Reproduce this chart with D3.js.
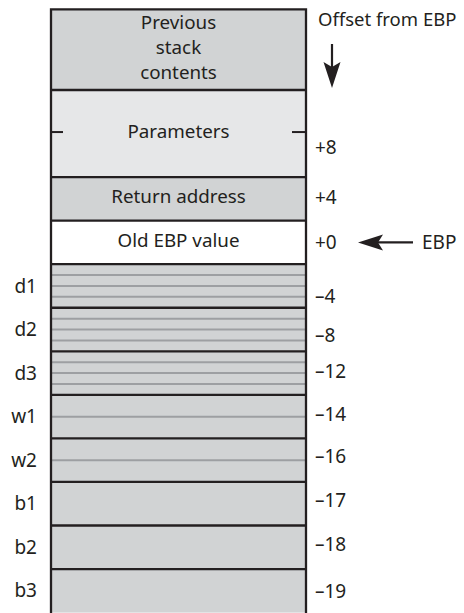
<!DOCTYPE html>
<html>
<head>
<meta charset="utf-8">
<script src="https://cdn.jsdelivr.net/npm/d3@7"></script>
<style>
  html, body { margin: 0; padding: 0; background: #fff; }
  text { font-family: "Noto Sans", sans-serif; fill: #231f20; }
</style>
</head>
<body>
<svg id="chart" width="464" height="613"></svg>
<script>
// Stack frame rows, top to bottom
const rowNames  = ["prev", "params", "ret", "oldEbp", "d1", "d2", "d3", "w1", "w2", "b1", "b2", "b3"];
const rowText   = [["Previous", "stack", "contents"], ["Parameters"], ["Return address"], ["Old EBP value"],
                   [], [], [], [], [], [], [], []];
const rowSlots  = [2, 2, 1, 1, 1, 1, 1, 1, 1, 1, 1, 1];          // slot count each row uses
const rowKind   = ["dark", "light", "dark", "white", "dark", "dark", "dark", "dark", "dark", "dark", "dark", "dark"];
const rowBytes  = [0, 0, 0, 0, 4, 4, 4, 2, 2, 1, 1, 1];            // byte divisions inside local vars
const sideLabel = ["", "", "", "", "d1", "d2", "d3", "w1", "w2", "b1", "b2", "b3"];

// Offsets from EBP and the row each one sits beside
const offsetRow    = ["params", "ret", "oldEbp", "d1", "d2", "d3", "w1", "w2", "b1", "b2", "b3"];
const offsetValues = [8, 4, 0, -4, -8, -12, -14, -16, -17, -18, -19];

const fills = { dark: "#d1d3d4", light: "#e6e7e8", white: "#ffffff" };
const ink = "#231f20";

const svg = d3.select("#chart");

// layout
const boxLeft = 51, boxRight = 306, frameTop = 9.3;
const totalSlots = d3.sum(rowSlots);
const y = d3.scaleLinear().domain([0, totalSlots]).range([2.9, 612.6]);

let acc = 0;
const rows = rowNames.map((name, i) => {
  const r = { name, i, s0: acc, s1: acc + rowSlots[i] };
  acc += rowSlots[i];
  r.top = Math.max(y(r.s0), frameTop);
  r.bottom = y(r.s1);
  r.mid = (y(r.s0) + y(r.s1)) / 2;
  return r;
});
const rowByName = new Map(rows.map(r => [r.name, r]));

// row fills
svg.selectAll("rect.row")
  .data(rows)
  .enter().append("rect")
  .attr("class", "row")
  .attr("x", boxLeft)
  .attr("y", d => d.top)
  .attr("width", boxRight - boxLeft)
  .attr("height", d => d.bottom - d.top)
  .attr("fill", d => fills[rowKind[d.i]]);

// byte divisions inside locals
const inner = [];
rows.forEach(r => {
  const n = rowBytes[r.i];
  for (let k = 1; k < n; k++) inner.push(r.top + (r.bottom - r.top) * k / n);
});
svg.selectAll("line.byte")
  .data(inner)
  .enter().append("line")
  .attr("class", "byte")
  .attr("x1", boxLeft).attr("x2", boxRight)
  .attr("y1", d => d).attr("y2", d => d)
  .attr("stroke", "#9d9fa2")
  .attr("stroke-width", 2);

// row separators
svg.selectAll("line.sep")
  .data(rows.slice(1))
  .enter().append("line")
  .attr("class", "sep")
  .attr("x1", boxLeft).attr("x2", boxRight)
  .attr("y1", d => d.top).attr("y2", d => d.top)
  .attr("stroke", ink)
  .attr("stroke-width", 2.3);

// outer frame (open at the bottom)
svg.append("path")
  .attr("d", `M${boxLeft},620V${frameTop}H${boxRight}V620`)
  .attr("fill", "none")
  .attr("stroke", ink)
  .attr("stroke-width", 2.3);

// small ticks on the parameters row
const pr = rowByName.get("params");
[[boxLeft, boxLeft + 12], [boxRight - 14, boxRight]].forEach(([a, b]) => {
  svg.append("line")
    .attr("x1", a).attr("x2", b)
    .attr("y1", pr.mid - 1.5).attr("y2", pr.mid - 1.5)
    .attr("stroke", ink).attr("stroke-width", 2);
});

// text inside rows
rows.forEach(r => {
  const lines = rowText[r.i];
  if (!lines.length) return;
  const lh = 25;
  const first = (r.top + r.bottom) / 2 - (lines.length - 1) * lh / 2 - 2;
  lines.forEach((t, k) => {
    svg.append("text")
      .attr("x", (boxLeft + boxRight) / 2)
      .attr("y", first + k * lh)
      .attr("dy", "0.35em")
      .attr("text-anchor", "middle")
      .attr("font-size", 18.8)
      .text(t);
  });
});

// side labels (variable names)
svg.selectAll("text.side")
  .data(rows.filter(r => sideLabel[r.i]))
  .enter().append("text")
  .attr("class", "side")
  .attr("x", 37)
  .attr("y", d => d.mid)
  .attr("dy", "0.35em")
  .attr("text-anchor", "end")
  .attr("font-size", 19)
  .text(d => sideLabel[d.i]);

// offset labels
const offsetNudge = [14, -2, 0, 10, 6, -2, -2, -4, -3, -3, 1];
const fmt = v => (v >= 0 ? "+" : "\u2013") + Math.abs(v);
svg.selectAll("text.off")
  .data(offsetValues)
  .enter().append("text")
  .attr("class", "off")
  .attr("x", 315)
  .attr("y", (v, i) => rowByName.get(offsetRow[i]).mid + offsetNudge[i])
  .attr("dy", "0.35em")
  .attr("font-size", 19)
  .text(fmt);

// header
svg.append("text")
  .attr("x", 318).attr("y", 20)
  .attr("dy", "0.35em")
  .attr("font-size", 18.5)
  .text("Offset from EBP");

// barbed arrow head pointing along +x, tip at origin
function arrowHead(len, half, notch) {
  return `M0,0L${-len},${-half}L${-len + notch},0L${-len},${half}Z`;
}

// down arrow
svg.append("line")
  .attr("x1", 332).attr("x2", 332)
  .attr("y1", 44).attr("y2", 70)
  .attr("stroke", ink).attr("stroke-width", 2.2);
svg.append("path")
  .attr("d", arrowHead(26, 8.5, 5))
  .attr("transform", "translate(332,88) rotate(90)")
  .attr("fill", ink);

// EBP pointer
const ebpY = rowByName.get("oldEbp").mid;
svg.append("line")
  .attr("x1", 375).attr("x2", 413)
  .attr("y1", ebpY).attr("y2", ebpY)
  .attr("stroke", ink).attr("stroke-width", 2.2);
svg.append("path")
  .attr("d", arrowHead(25, 8, 5))
  .attr("transform", `translate(358,${ebpY}) rotate(180)`)
  .attr("fill", ink);
svg.append("text")
  .attr("x", 422).attr("y", ebpY)
  .attr("dy", "0.35em")
  .attr("font-size", 19)
  .text("EBP");
</script>
</body>
</html>
